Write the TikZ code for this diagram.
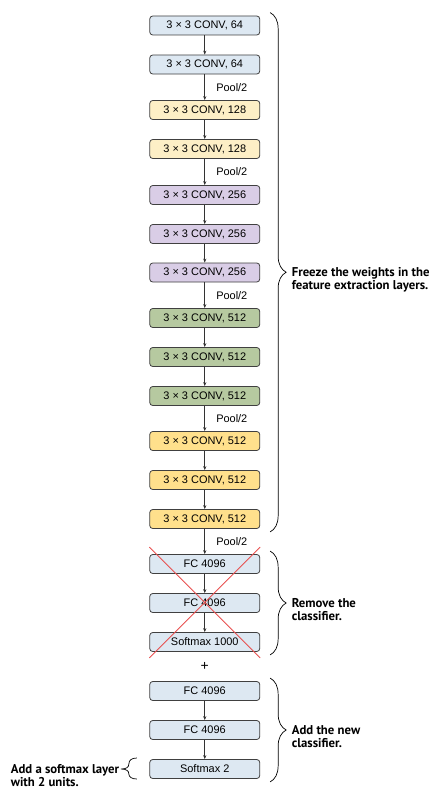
\documentclass[tikz,border=0pt]{standalone}
\usepackage{fontspec}
\setmainfont{Liberation Sans}
\newfontfamily\notefont{PT Sans}
\usetikzlibrary{arrows.meta,decorations.pathreplacing,calc}

\definecolor{convblue}{RGB}{221,232,242}
\definecolor{convcream}{RGB}{253,239,198}
\definecolor{convlilac}{RGB}{217,205,230}
\definecolor{convgreen}{RGB}{182,201,160}
\definecolor{convgold}{RGB}{255,224,140}
\definecolor{crossred}{RGB}{232,80,80}

\tikzset{
  layer/.style={draw=black!75, line width=0.8bp, rounded corners=3bp,
    minimum width=110bp, minimum height=19bp, inner sep=0pt,
    font=\fontsize{11}{12}\selectfont},
  flow/.style={-{Stealth[length=4bp,width=3.2bp]}, line width=0.6bp, black!80},
  pool/.style={anchor=west, xshift=8bp, font=\fontsize{11}{12}\selectfont},
  brace/.style={decorate, decoration={brace, amplitude=16bp}, line width=0.7bp},
  note/.style={align=left, inner sep=0pt,
    font=\notefont\bfseries\fontsize{12.8}{13}\selectfont},
}

\begin{document}
\begin{tikzpicture}[x=1bp,y=-1bp]
  \useasboundingbox (0,0) rectangle (446,807);
  % stack of layers:
  \foreach \n/\y/\c/\t in {
      c1/25.5/convblue/{3 × 3 CONV, 64}, c2/64.5/convblue/{3 × 3 CONV, 64},
      c3/110/convcream/{3 × 3 CONV, 128}, c4/149/convcream/{3 × 3 CONV, 128},
      c5/195/convlilac/{3 × 3 CONV, 256}, c6/234/convlilac/{3 × 3 CONV, 256},
      c7/272.5/convlilac/{3 × 3 CONV, 256},
      c8/318/convgreen/{3 × 3 CONV, 512}, c9/357/convgreen/{3 × 3 CONV, 512},
      c10/396/convgreen/{3 × 3 CONV, 512},
      c11/441/convgold/{3 × 3 CONV, 512}, c12/480/convgold/{3 × 3 CONV, 512},
      c13/519/convgold/{3 × 3 CONV, 512},
      f1/564/convblue/{FC 4096}, f2/603/convblue/{FC 4096},
      s1/642/convblue/{Softmax 1000},
      f3/691/convblue/{FC 4096}, f4/730/convblue/{FC 4096},
      s2/769/convblue/{Softmax 2}}
    \node[layer, fill=\c] (\n) at (204.75,\y) {\t};
  % arrows between layers:
  \foreach \a/\b in {c1/c2, c2/c3, c3/c4, c4/c5, c5/c6, c6/c7, c7/c8, c8/c9,
      c9/c10, c10/c11, c11/c12, c12/c13, c13/f1, f1/f2, f2/s1, f3/f4, f4/s2}
    \draw[flow] (\a) -- (\b);
  % pooling labels:
  \foreach \a/\b in {c2/c3, c4/c5, c7/c8, c10/c11, c13/f1}
    \path (\a.south) -- (\b.north) node[midway, pool] {Pool/2};
  % old classifier crossed out:
  \draw[crossred, line width=0.9bp] ([yshift=7bp]f1.north west) -- ([yshift=-6bp]s1.south east);
  \draw[crossred, line width=0.9bp] ([yshift=7bp]f1.north east) -- ([yshift=-6bp]s1.south west);
  \node[font=\fontsize{14}{14}\selectfont] (plus) at ($(s1)!0.5!(f3)$) {+};
  % braces on the right:
  \coordinate (b1a) at ([xshift=10bp,yshift=3bp]c1.north east);
  \coordinate (b1b) at ([xshift=10bp,yshift=-3bp]c13.south east);
  \coordinate (b2a) at ([xshift=10bp,yshift=3bp]f1.north east);
  \coordinate (b2b) at ([xshift=10bp,yshift=-3bp]s1.south east);
  \coordinate (b3a) at ([xshift=10bp,yshift=3bp]f3.north east);
  \coordinate (b3b) at ([xshift=10bp,yshift=-3bp]s2.south east);
  \draw[brace] (b1a) -- (b1b);
  \draw[brace] (b2a) -- (b2b);
  \draw[brace] (b3a) -- (b3b);
  \node[note, anchor=base west] (freeze) at ($(b1a)!0.5!(b1b)+(21.5,17)$)
    {Freeze the weights in the\\feature extraction layers.};
  \node[note, anchor=base west] (remove) at ($(b2a)!0.5!(b2b)+(21.5,17)$)
    {Remove the\\classifier.};
  \node[note, anchor=base west] (addnew) at ($(b3a)!0.5!(b3b)+(21.5,17)$)
    {Add the new\\classifier.};
  % small brace on the left:
  \coordinate (lb) at ([xshift=-12.5bp]s2.west);
  \draw[line width=0.7bp] ($(lb)+(0,-11)$)
    .. controls ($(lb)+(-5,-11)$) and ($(lb)+(-8,-9)$) .. ($(lb)+(-8,-5)$)
    .. controls ($(lb)+(-8,-2)$) and ($(lb)+(-10,0)$) .. ($(lb)+(-16,0)$)
    .. controls ($(lb)+(-10,0)$) and ($(lb)+(-8,2)$) .. ($(lb)+(-8,5)$)
    .. controls ($(lb)+(-8,8)$) and ($(lb)+(-5,10)$) .. ($(lb)+(0,10)$);
  \node[note, anchor=base east] (softnote) at ($(lb)+(-17.5,17)$)
    {Add a softmax layer\\with 2 units.};
\end{tikzpicture}
\end{document}
